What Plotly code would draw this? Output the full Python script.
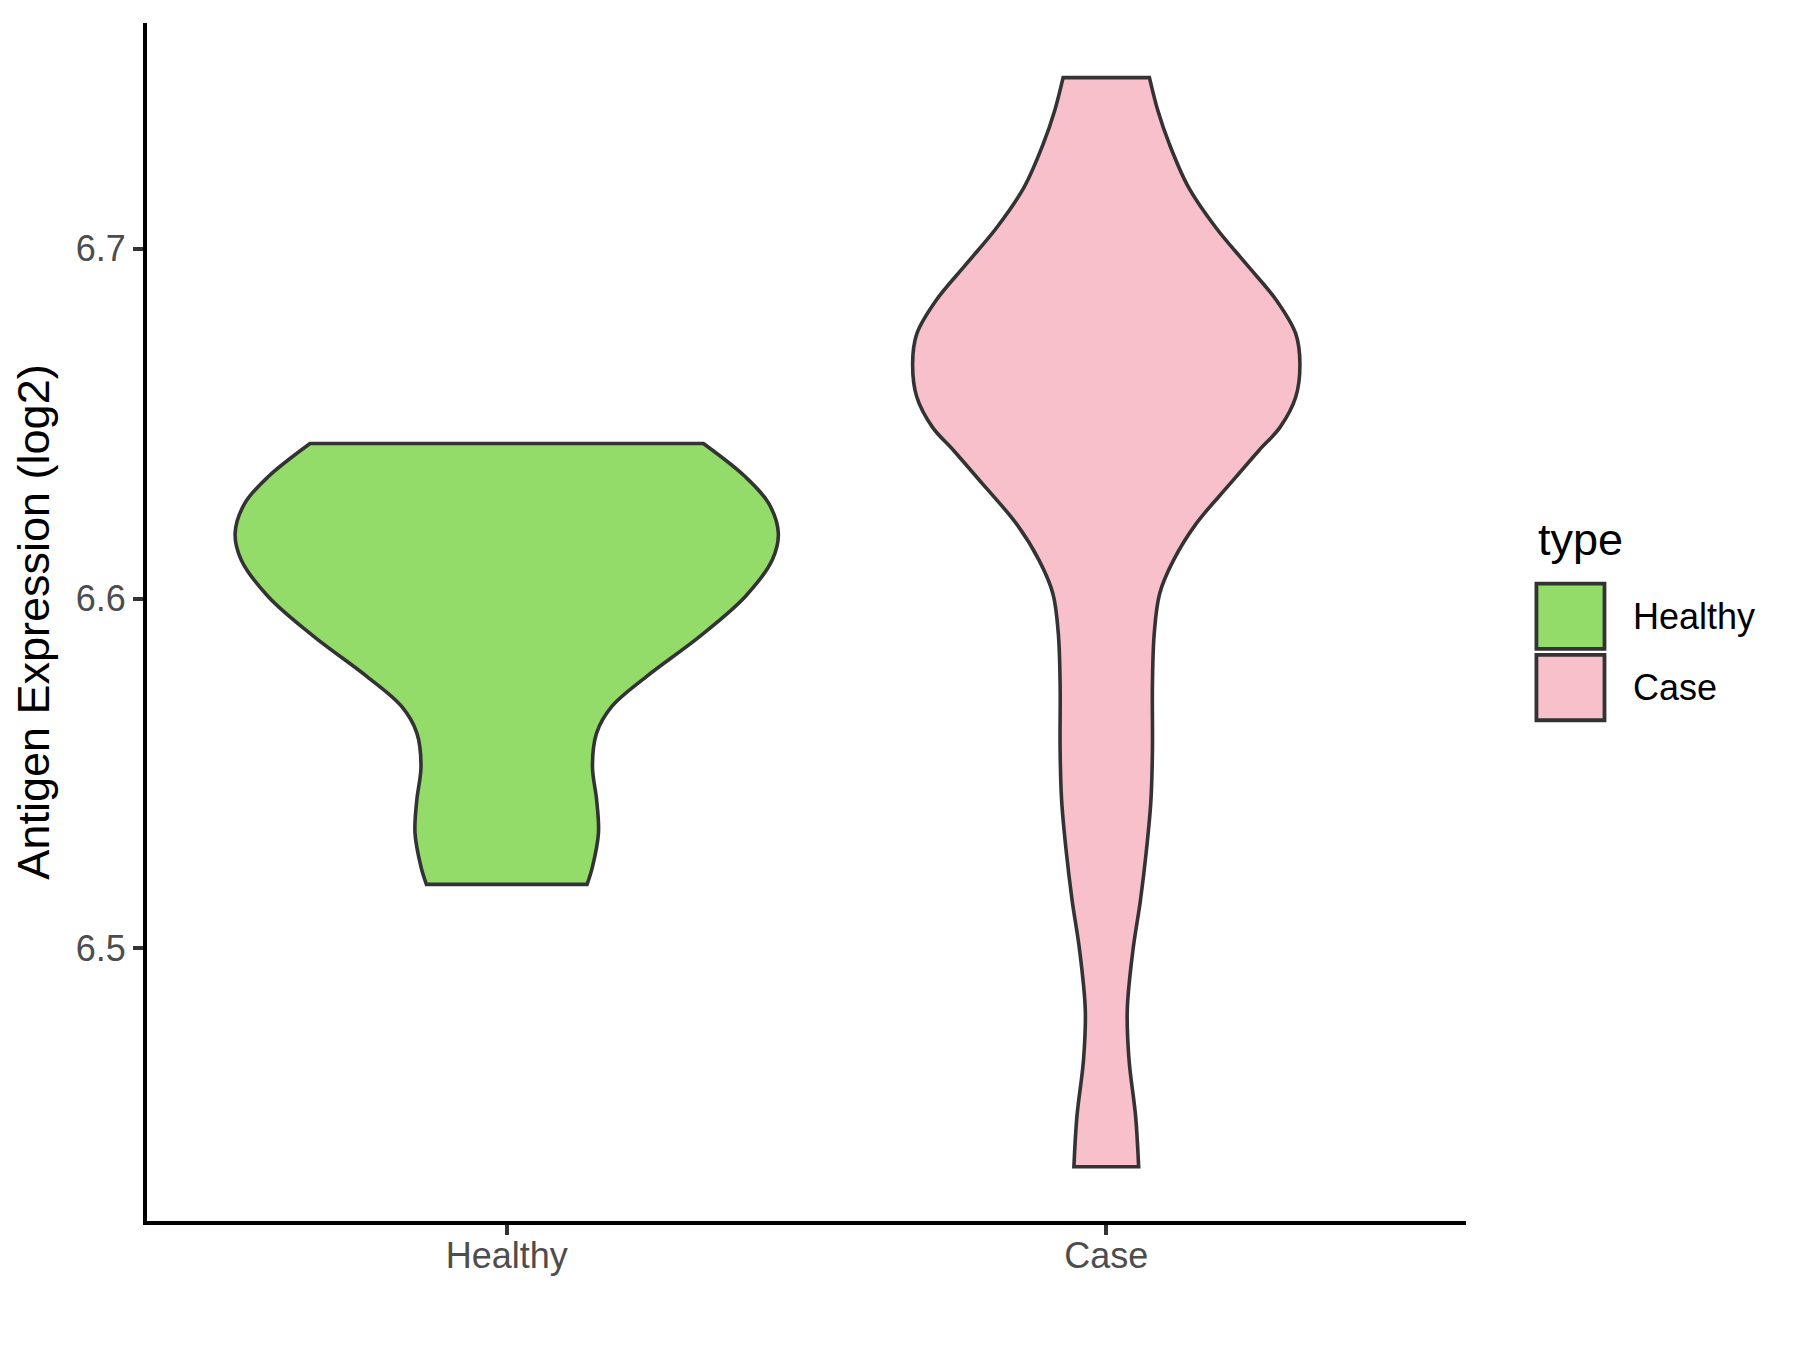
import plotly.graph_objects as go

# categories and colours (ggplot fill scale)
groups = ["Healthy", "Case"]
fill_colors = ["#93DC6A", "#F7C0CB"]

# violin outlines: expression level (log2) and
# half-width of the density at that level, in category units
healthy_values = [6.5183, 6.5233, 6.5330, 6.5424, 6.5520, 6.5616, 6.5691, 6.5777,
                  6.5892, 6.6006, 6.6111, 6.6187, 6.6272, 6.6348, 6.6443]
healthy_width = [0.134, 0.143, 0.153, 0.150, 0.143, 0.150, 0.175, 0.233,
                 0.322, 0.398, 0.443, 0.453, 0.437, 0.398, 0.328]

case_values = [6.4376, 6.4519, 6.4681, 6.4824, 6.4995, 6.5138, 6.5281, 6.5424,
               6.5567, 6.5757, 6.5900, 6.6014, 6.6109, 6.6214, 6.6329, 6.6424,
               6.6490, 6.6576, 6.6671, 6.6757, 6.6852, 6.6957, 6.7062, 6.7176,
               6.7300, 6.7395, 6.7489]
case_width = [0.054, 0.049, 0.038, 0.035, 0.0445, 0.057, 0.067, 0.0745,
              0.077, 0.077, 0.080, 0.089, 0.112, 0.150, 0.207, 0.255,
              0.290, 0.316, 0.323, 0.316, 0.284, 0.233, 0.182, 0.137,
              0.105, 0.086, 0.072]

y_ticks = [6.5, 6.6, 6.7]

FONT = "Liberation Sans, Arial, sans-serif"
OUTLINE = "#333333"


def violin_path(center, values, width):
    # left edge bottom->top, right edge top->bottom, back to start.
    # corner points are doubled so the spline keeps the flat ends square
    left = [center - w for w in width]
    right = [center + w for w in reversed(width)]
    xs = [left[0]] + left + [left[-1]] + [right[0]] + right + [right[-1]] + [left[0]]
    v = list(values)
    rv = list(reversed(values))
    ys = [v[0]] + v + [v[-1]] + [rv[0]] + rv + [rv[-1]] + [v[0]]
    return xs, ys


fig = go.Figure()
series = [(healthy_values, healthy_width), (case_values, case_width)]
for i, (name, (vals, wid)) in enumerate(zip(groups, series)):
    xs, ys = violin_path(i + 1, vals, wid)
    fig.add_trace(
        go.Scatter(
            x=xs,
            y=ys,
            mode="lines",
            fill="toself",
            fillcolor=fill_colors[i],
            line=dict(color=OUTLINE, width=3.6, shape="spline", smoothing=1.0),
            name=name,
            showlegend=False,
            hoverinfo="skip",
        )
    )

# legend drawn like ggplot's (big square keys)
shapes = []
annotations = [
    dict(x=1.0534, y=0.569, xref="paper", yref="paper", text="type",
         showarrow=False, xanchor="left", yanchor="middle",
         font=dict(family=FONT, size=45, color="black"))
]
key_top = 0.532
key_h = 0.0595
for i, name in enumerate(groups):
    y1 = key_top - i * key_h
    y0 = y1 - key_h + 0.005
    shapes.append(dict(type="rect", xref="paper", yref="paper",
                       x0=1.0534, x1=1.1050, y0=y0, y1=y1,
                       fillcolor=fill_colors[i],
                       line=dict(color=OUTLINE, width=3.8)))
    annotations.append(dict(x=1.1254, y=(y0 + y1) / 2, xref="paper", yref="paper",
                            text=name, showarrow=False, xanchor="left",
                            yanchor="middle",
                            font=dict(family=FONT, size=36, color="black")))

# page body has an 8px margin, so the figure is a bit smaller than the window
fig.update_layout(
    width=1784,
    height=1334,
    margin=dict(l=139, r=326, t=15, b=121),
    plot_bgcolor="white",
    paper_bgcolor="white",
    font=dict(family=FONT, size=36, color="#4D4D4D"),
    shapes=shapes,
    annotations=annotations,
    showlegend=False,
)
axis_style = dict(
    showgrid=False,
    zeroline=False,
    showline=True,
    linecolor="black",
    linewidth=4,
    ticks="outside",
    ticklen=10,
    tickwidth=3.5,
    tickcolor=OUTLINE,
    tickfont=dict(family=FONT, size=36, color="#4D4D4D"),
)
fig.update_xaxes(
    range=[0.4, 2.6],
    tickvals=[1, 2],
    ticktext=groups,
    ticklabelstandoff=-10,
    **axis_style,
)
fig.update_yaxes(
    range=[6.4221, 6.7645],
    tickvals=y_ticks,
    ticktext=[f"{t:.1f}" for t in y_ticks],
    title=dict(text="Antigen Expression (log2)", standoff=15,
               font=dict(family=FONT, size=45, color="black")),
    **axis_style,
)

fig.write_html("out.html")
